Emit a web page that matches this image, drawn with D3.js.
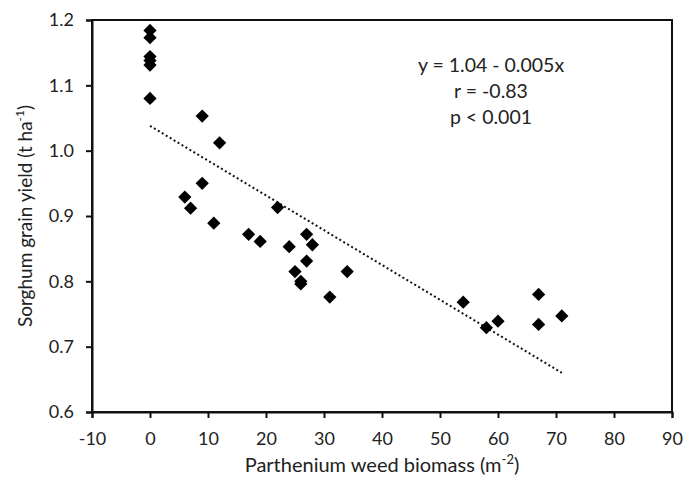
<!DOCTYPE html>
<html>
<head>
<meta charset="utf-8">
<script src="https://cdn.jsdelivr.net/npm/d3@7"></script>
<style>
  body { margin: 0; background: #fff; }
  text { font-family: Lato, "Open Sans", sans-serif; fill: #222; }
</style>
</head>
<body>
<svg id="chart"></svg>
<script>
// weed biomass (m-2) and grain yield (t ha-1)
var biomass = [0, 0, 0, 0, 0, 0, 9, 12, 9, 6, 7, 11, 22, 17, 19, 24, 27, 28, 27, 25, 26, 26, 31, 34, 54, 58, 60, 67, 67, 71];
var yieldVals = [1.184, 1.173, 1.144, 1.138, 1.131, 1.080, 1.053, 1.012, 0.950, 0.929, 0.912, 0.889, 0.913, 0.872, 0.861, 0.853, 0.872, 0.856, 0.831, 0.815, 0.800, 0.796, 0.776, 0.815, 0.768, 0.729, 0.739, 0.780, 0.734, 0.747];

// fitted line end points
var trendX = [0, 71];
var trendY = [1.038, 0.660];

var xTicks = [-10, 0, 10, 20, 30, 40, 50, 60, 70, 80, 90];
var yTicks = [0.6, 0.7, 0.8, 0.9, 1.0, 1.1, 1.2];
var statsText = ["y = 1.04 - 0.005x", "r = -0.83", "p < 0.001"];

var width = 684, height = 486;
var margin = {top: 20, right: 12, bottom: 74, left: 92};

var svg = d3.select("#chart")
  .attr("width", width)
  .attr("height", height);

var x = d3.scaleLinear().domain([-10, 90]).range([margin.left, width - margin.right]);
var y = d3.scaleLinear().domain([0.6, 1.2]).range([height - margin.bottom, margin.top]);

// box
svg.append("rect")
  .attr("x", x(-10)).attr("y", y(1.2))
  .attr("width", x(90) - x(-10)).attr("height", y(0.6) - y(1.2))
  .attr("fill", "none").attr("stroke", "#111").attr("stroke-width", 2);

// plain hyphen for negatives, like the original
var xAxis = d3.axisBottom(x).tickValues(xTicks).tickFormat(d => String(d)).tickSize(6).tickPadding(14);
var yAxis = d3.axisLeft(y).tickValues(yTicks).tickFormat(d3.format(".1f")).tickSize(6).tickPadding(12);

var gx = svg.append("g")
  .attr("transform", `translate(0, ${y(0.6)})`)
  .call(xAxis);
var gy = svg.append("g")
  .attr("transform", `translate(${x(-10)}, 0)`)
  .call(yAxis);

[gx, gy].forEach(g => {
  g.select(".domain").attr("stroke", "#111").attr("stroke-width", 2);
  g.selectAll(".tick line").attr("stroke", "#111").attr("stroke-width", 2);
  g.selectAll(".tick text").attr("font-size", 18).attr("fill", "#222")
    .attr("font-family", "Lato, 'Open Sans', sans-serif");
});

// trend line
var line = d3.line().x(d => x(d[0])).y(d => y(d[1]));
svg.append("path")
  .datum(trendX.map((d, i) => [d, trendY[i]]))
  .attr("d", line)
  .attr("fill", "none")
  .attr("stroke", "#111")
  .attr("stroke-width", 2)
  .attr("stroke-dasharray", "2,2.6");

// points
var diamond = d3.symbol().type(d3.symbolSquare).size(88);
svg.selectAll(".pt")
  .data(biomass.map((d, i) => [d, yieldVals[i]]))
  .enter()
  .append("path")
  .attr("class", "pt")
  .attr("d", diamond)
  .attr("fill", "#000")
  .attr("transform", d => `translate(${x(d[0])}, ${y(d[1])}) rotate(45)`);

// stats
svg.append("g").selectAll("text")
  .data(statsText)
  .enter()
  .append("text")
  .attr("x", 491)
  .attr("y", (d, i) => 72 + i * 26)
  .attr("text-anchor", "middle")
  .attr("font-size", 19.5)
  .text(d => d);

// x title
var xt = svg.append("text")
  .attr("x", 382)
  .attr("y", 472)
  .attr("text-anchor", "middle")
  .attr("font-size", 20);
xt.append("tspan").text("Parthenium weed biomass (m");
xt.append("tspan").attr("font-size", 13).attr("dy", -8).text("-2");
xt.append("tspan").attr("dy", 8).text(")");

// y title
var yt = svg.append("text")
  .attr("transform", `translate(32, 216) rotate(-90)`)
  .attr("text-anchor", "middle")
  .attr("font-size", 19);
yt.append("tspan").text("Sorghum grain yield (t ha");
yt.append("tspan").attr("font-size", 12).attr("dy", -8).text("-1");
yt.append("tspan").attr("dy", 8).text(")");
</script>
</body>
</html>
